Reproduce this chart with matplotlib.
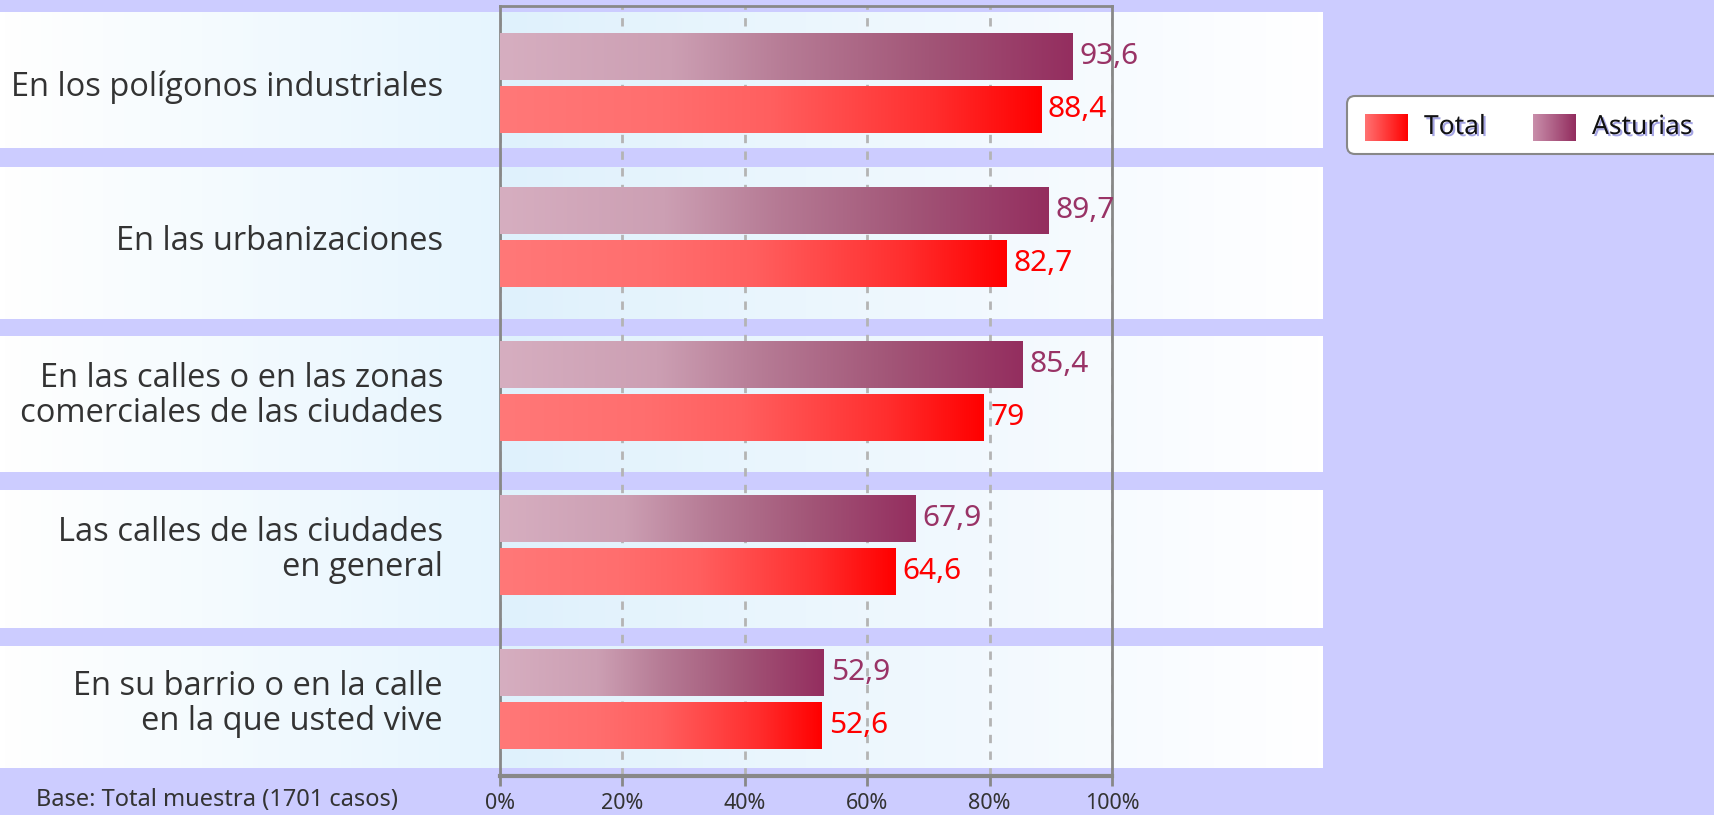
import numpy as np
import matplotlib
matplotlib.use("Agg")
import matplotlib.pyplot as plt
from matplotlib.colors import LinearSegmentedColormap
from matplotlib.patches import FancyBboxPatch
import matplotlib.patheffects as pe

# data
categories = ["En los polígonos industriales",
              "En las urbanizaciones",
              "En las calles o en las zonas\ncomerciales de las ciudades",
              "Las calles de las ciudades\nen general",
              "En su barrio o en la calle\nen la que usted vive"]
asturias = [93.6, 89.7, 85.4, 67.9, 52.9]
total = [88.4, 82.7, 79.0, 64.6, 52.6]
asturias_labels = ["93,6", "89,7", "85,4", "67,9", "52,9"]
total_labels = ["88,4", "82,7", "79", "64,6", "52,6"]
ticks = [0, 20, 40, 60, 80, 100]
tick_labels = ["0%", "20%", "40%", "60%", "80%", "100%"]
series_names = ["Total", "Asturias"]
footnote = "Base: Total muestra (1701 casos)"

# layout (pixels of the 1715x815 picture)
W, H = 1715, 815
band_top = [-0.455, 0.545, 1.649, 2.649, 3.662]
band_bottom = [0.422, 1.532, 2.526, 3.539, 4.448]

bg_col = "#ccccff"
label_font = "Open Sans"
num_font = "Noto Sans"

band_cmap = LinearSegmentedColormap.from_list(
    "band", [(0, "#ffffff"), (0.377, "#e6f5fe"), (0.379, "#dff1fc"),
             (0.84, "#f7fbff"), (1, "#ffffff")])
ast_cmap = LinearSegmentedColormap.from_list(
    "ast", [(0, "#d6aec0"), (0.3, "#cc9fb3"), (0.5, "#b67b95"),
            (0.75, "#a25577"), (1, "#942e5f")])
tot_cmap = LinearSegmentedColormap.from_list(
    "tot", [(0, "#ff7878"), (0.3, "#ff6e6e"), (0.5, "#ff5f5f"),
            (0.65, "#ff4747"), (0.8, "#ff2e2e"), (1, "#ff0000")])
ast_leg = LinearSegmentedColormap.from_list("astl", ["#c98fab", "#922c5e"])
tot_leg = LinearSegmentedColormap.from_list("totl", ["#ff7272", "#ff0000"])
grad = np.linspace(0, 1, 256).reshape(1, -1)


def px_axes(l, t, r, b):
    return fig.add_axes([l / W, 1 - b / H, (r - l) / W, (b - t) / H])


fig = plt.figure(figsize=(W / 100, H / 100), dpi=100, facecolor=bg_col)

# white/blue bands behind each category
bg = px_axes(0, 6, W, 776)
bg.axis("off")
for top, bot in zip(band_top, band_bottom):
    bg.imshow(grad, cmap=band_cmap, extent=[0, 1323, bot, top], aspect="auto")
bg.set_xlim(0, W)
bg.set_ylim(4.5, -0.5)

ax = px_axes(500, 6, 1112, 776)
ax.set_facecolor("none")
y = np.arange(len(categories))

b_ast = ax.barh(y - 0.17, asturias, height=0.305, color="none", zorder=3)
b_tot = ax.barh(y + 0.17, total, height=0.305, color="none", zorder=3)
for bars, cmap in ((b_ast, ast_cmap), (b_tot, tot_cmap)):
    for bar in bars:
        x0, y0 = bar.get_x(), bar.get_y()
        w, h = bar.get_width(), bar.get_height()
        ax.imshow(grad, cmap=cmap, extent=[x0, x0 + w, y0 + h, y0],
                  aspect="auto", zorder=3)

ax.bar_label(b_ast, labels=asturias_labels, padding=5, color="#993366",
             fontsize=21.5, family=num_font)
ax.bar_label(b_tot, labels=total_labels, padding=5, color="#ff0000",
             fontsize=21.5, family=num_font)

ax.set_xlim(0, 100)
ax.set_ylim(4.5, -0.5)
ax.set_xticks(ticks, tick_labels)
ax.set_yticks(y, categories)
ax.set_axisbelow(True)
ax.xaxis.grid(True, color="#b4b4b4", linestyle=(0, (3, 3)), linewidth=2)

for s in ("left", "top", "right"):
    ax.spines[s].set_color("#888888")
    ax.spines[s].set_linewidth(2)
ax.spines["bottom"].set_color("#888888")
ax.spines["bottom"].set_linewidth(3)

ax.tick_params(axis="x", direction="out", length=7, width=2, color="#888888",
               labelsize=15.5, labelcolor="#333333", pad=5)
ax.tick_params(axis="y", length=0, pad=41, labelsize=23.5, labelcolor="#333333")
for t in ax.get_xticklabels():
    t.set_family(num_font)
for t in ax.get_yticklabels():
    t.set_family(label_font)
    t.set_linespacing(1.1)

# figure-pixel overlay for footnote and legend
ov = fig.add_axes([0, 0, 1, 1])
ov.axis("off")
ov.patch.set_alpha(0)

ov.text(36, 800, footnote, fontsize=17, color="#333333", family=num_font,
        va="center", ha="left")

ov.add_patch(FancyBboxPatch((1347, 96), 420, 58,
                            boxstyle="round,pad=0,rounding_size=8",
                            fc="white", ec="#888888", lw=1.5, zorder=1))
shadow = [pe.withSimplePatchShadow(offset=(1.5, -1.5),
                                   shadow_rgbFace="#a4a4e4", alpha=1)]
for x0, cmap, name in ((1365, tot_leg, series_names[0]),
                       (1533, ast_leg, series_names[1])):
    ov.imshow(grad, cmap=cmap, extent=[x0, x0 + 43, 141, 114], aspect="auto",
              zorder=3)
    ov.text(x0 + 59, 127, name, fontsize=19, family=num_font, color="#111111",
            va="center", ha="left", path_effects=shadow, zorder=4)
ov.set_xlim(0, W)
ov.set_ylim(H, 0)

fig.savefig("out.png", dpi=100, facecolor=bg_col)
